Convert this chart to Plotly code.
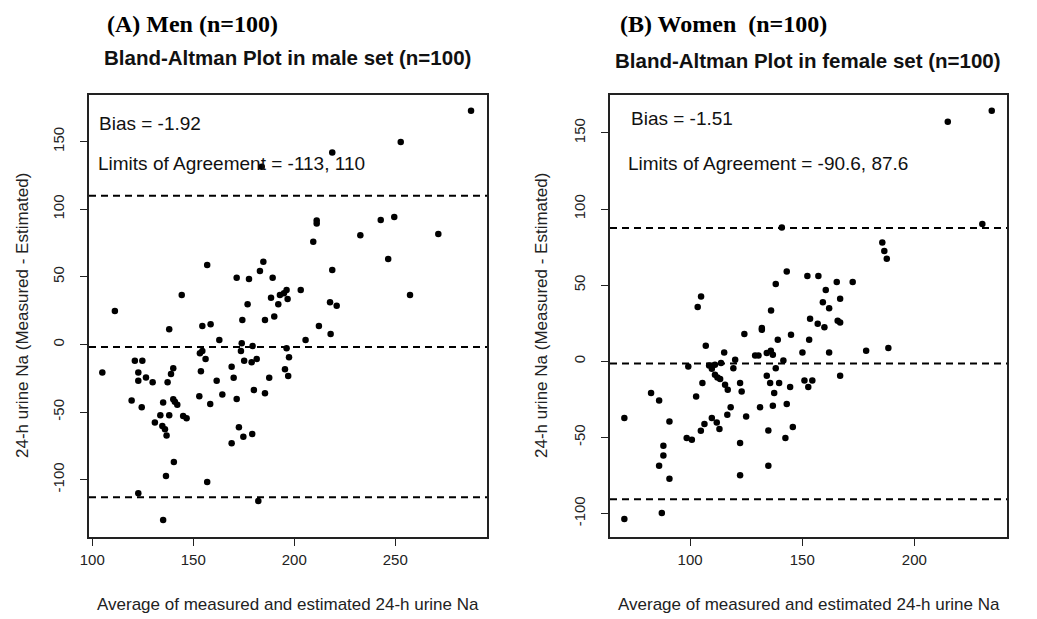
import plotly.graph_objects as go

# ---------------- data ----------------
men_avg = [183.9, 156.9, 144.3, 111.2, 184.7, 183.0, 171.5, 177.6, 189.3, 196.2,
           192.9, 194.9, 196.7, 188.5, 176.9, 192.1, 174.3, 185.5, 190.1, 287.5,
           252.7, 218.8, 211.1, 211.1, 242.8, 249.5, 209.4, 232.7, 271.3, 246.5,
           218.8, 203.2, 257.3, 217.7, 221.0, 138.1, 154.5, 158.6, 162.9, 174.0,
           179.4, 173.6, 196.2, 197.4, 195.4, 197.0, 153.3, 154.5, 156.1, 153.8,
           153.0, 158.4, 161.6, 164.4, 169.0, 170.0, 171.5, 175.2, 178.9, 181.4,
           180.0, 185.5, 187.6, 172.6, 174.8, 179.2, 169.0, 156.9, 182.2, 105.0,
           121.1, 124.8, 122.8, 122.8, 126.6, 129.9, 119.5, 124.5, 122.8, 135.1,
           137.3, 139.0, 140.1, 135.1, 140.1, 140.9, 142.1, 133.7, 138.1, 131.0,
           134.7, 136.0, 136.8, 145.0, 146.7, 140.4, 136.5, 212.2, 218.0, 205.6]
men_diff = [131.5, 58.8, 36.6, 24.8, 61.2, 54.4, 49.4, 48.4, 49.4, 40.3,
            36.6, 37.9, 33.7, 34.6, 29.7, 29.7, 18.1, 18.1, 20.6, 172.9,
            149.8, 141.9, 91.7, 89.5, 92.1, 94.3, 76.0, 80.8, 81.7, 63.2,
            55.1, 40.3, 36.6, 31.2, 28.7, 11.2, 13.7, 14.9, 3.3, 0.9,
            -1.1, -4.8, -2.8, -9.5, -18.4, -23.3, -6.5, -4.8, -10.7, -19.8,
            -38.3, -44.0, -26.8, -37.1, -16.4, -24.6, -40.3, -12.0, -13.2, -10.7,
            -33.7, -36.1, -24.6, -61.2, -68.2, -66.2, -73.1, -101.7, -115.8, -20.8,
            -12.0, -12.0, -20.8, -26.8, -24.5, -28.0, -41.5, -46.4, -110.1, -129.8,
            -28.0, -21.8, -17.6, -43.0, -40.5, -42.3, -44.5, -52.4, -52.4, -57.8,
            -60.3, -62.7, -67.4, -52.9, -54.6, -86.9, -97.3, 13.7, 7.8, 3.3]

women_avg = [140.9, 143.1, 138.2, 152.3, 104.9, 103.4, 136.1, 153.5, 214.9, 234.5,
             230.3, 185.7, 186.6, 187.7, 157.2, 160.5, 165.4, 172.5, 159.2, 162.0,
             166.9, 165.8, 166.9, 156.9, 159.9, 132.0, 132.0, 124.2, 145.0, 139.1,
             153.1, 107.0, 115.2, 129.0, 130.5, 134.2, 136.0, 136.9, 150.1, 141.6,
             120.1, 99.2, 108.5, 109.7, 111.1, 113.8, 119.3, 138.2, 111.1, 112.2,
             113.4, 105.5, 115.6, 116.8, 122.3, 123.0, 134.2, 135.7, 139.7, 137.5,
             144.6, 151.0, 154.5, 152.7, 82.6, 86.2, 102.7, 90.8, 70.7, 118.1,
             116.6, 125.0, 131.2, 136.9, 143.1, 109.7, 111.9, 113.1, 106.4, 104.8,
             98.5, 100.8, 134.9, 145.8, 142.5, 122.3, 88.1, 88.1, 86.2, 90.8,
             122.3, 134.9, 87.4, 70.7, 162.0, 178.5, 188.4, 166.9]
women_diff = [87.8, 58.9, 50.7, 56.1, 42.5, 35.6, 33.3, 27.9, 157.4, 164.6,
              90.2, 78.0, 72.5, 67.3, 56.1, 46.9, 52.0, 52.0, 38.8, 34.9,
              41.0, 26.6, 25.5, 24.6, 22.4, 21.8, 20.7, 18.0, 17.4, 14.1,
              14.1, 10.2, 5.8, 3.8, 3.8, 5.4, 6.9, 4.3, 5.8, 0.5,
              1.0, -3.4, -2.8, -4.9, -2.3, -1.2, -4.5, -4.5, -8.9, -10.6,
              -11.7, -14.3, -15.4, -18.7, -14.3, -19.8, -9.5, -14.3, -14.3, -20.9,
              -16.9, -12.6, -12.6, -16.9, -20.9, -25.7, -23.1, -39.5, -37.3, -30.1,
              -35.1, -36.2, -30.1, -29.2, -28.1, -37.3, -40.2, -44.5, -41.2, -45.6,
              -50.4, -51.5, -45.4, -43.2, -50.4, -53.7, -55.4, -61.8, -68.6, -77.1,
              -74.9, -68.6, -99.6, -103.5, 5.8, 6.9, 8.7, -9.5]

men_bias = -1.92
men_loa = [-113, 110]
women_bias = -1.51
women_loa = [-90.6, 87.6]

men_xticks = [100, 150, 200, 250]
women_xticks = [100, 150, 200]
yticks = [-100, -50, 0, 50, 100, 150]

panel_titles = ["(A) Men (n=100)", "(B) Women&nbsp; (n=100)"]
plot_titles = ["Bland-Altman Plot in male set (n=100)",
               "Bland-Altman Plot in female set (n=100)"]
xlabel = "Average of measured and estimated 24-h urine Na"
ylabel = "24-h urine Na (Measured - Estimated)"

# ---------------- layout helpers ----------------
# the page body has an 8px margin, so the figure is drawn 8px in from the corner
OFF = 8
W, H = 1037 - OFF, 619 - OFF
SANS = "Liberation Sans, Arial, sans-serif"
SERIF = "Liberation Serif, Times New Roman, serif"


def px(x):
    return (x - OFF) / W


def py(y):
    return 1 - (y - OFF) / H


fig = go.Figure()

marker = dict(color="black", size=6.5, symbol="circle")
fig.add_trace(go.Scatter(x=men_avg, y=men_diff, mode="markers", marker=marker,
                         xaxis="x", yaxis="y", showlegend=False))
fig.add_trace(go.Scatter(x=women_avg, y=women_diff, mode="markers", marker=marker,
                         xaxis="x2", yaxis="y2", showlegend=False))

dash_line = dict(color="black", width=2, dash="7px,5px")
for val in [men_bias] + men_loa:
    fig.add_shape(type="line", xref="x domain", yref="y", x0=0, x1=1, y0=val, y1=val,
                  line=dash_line)
for val in [women_bias] + women_loa:
    fig.add_shape(type="line", xref="x2 domain", yref="y2", x0=0, x1=1, y0=val, y1=val,
                  line=dash_line)

axis_common = dict(showline=True, mirror=True, linecolor="#222", linewidth=1.5,
                   ticks="outside", ticklen=7, tickwidth=1.3, tickcolor="#222",
                   showgrid=False, zeroline=False, automargin=False,
                   tickfont=dict(family=SANS, size=15, color="#222"))

left_dom = [px(89), px(487)]
right_dom = [px(610), px(1007)]
ydom = [py(537), py(95)]

ytext = [str(v) for v in yticks]

fig.update_layout(
    width=W, height=H,
    margin=dict(l=0, r=0, t=0, b=0),
    paper_bgcolor="white", plot_bgcolor="white",
    showlegend=False,
    xaxis=dict(domain=left_dom, range=[98.4, 295.4], tickvals=men_xticks,
               ticktext=[str(v) for v in men_xticks],
               anchor="y", ticklabelstandoff=1, **axis_common),
    yaxis=dict(domain=ydom, range=[-142.4, 184.5], tickvals=yticks, ticktext=ytext,
               tickangle=-90, anchor="x", ticklabelstandoff=10, **axis_common),
    xaxis2=dict(domain=right_dom, range=[64.3, 241.3], tickvals=women_xticks,
                ticktext=[str(v) for v in women_xticks],
                anchor="y2", ticklabelstandoff=1, **axis_common),
    yaxis2=dict(domain=ydom, range=[-115.4, 174.9], tickvals=yticks, ticktext=ytext,
                tickangle=-90, anchor="x2", ticklabelstandoff=10, **axis_common),
)

ann = []
# panel headings
head_font = dict(family=SERIF, size=24, color="black")
ann.append(dict(text="<b>" + panel_titles[0] + "</b>", x=px(105), y=py(24),
                xanchor="left", yanchor="middle", font=head_font))
ann.append(dict(text="<b>" + panel_titles[1] + "</b>", x=px(618), y=py(24),
                xanchor="left", yanchor="middle", font=head_font))
# plot titles
ann.append(dict(text="<b>" + plot_titles[0] + "</b>", x=px(287), y=py(58),
                xanchor="center", yanchor="middle",
                font=dict(family=SANS, size=20.5, color="#111")))
ann.append(dict(text="<b>" + plot_titles[1] + "</b>", x=px(808), y=py(60),
                xanchor="center", yanchor="middle",
                font=dict(family=SANS, size=20.5, color="#111")))
# bias / limits text
txt_font = dict(family=SANS, size=19, color="#111")
ann.append(dict(text="Bias = %s" % men_bias, x=px(97), y=py(123),
                xanchor="left", yanchor="middle", font=txt_font))
ann.append(dict(text="Limits of Agreement = %s, %s" % (men_loa[0], men_loa[1]),
                x=px(96), y=py(163), xanchor="left", yanchor="middle", font=txt_font))
ann.append(dict(text="Bias = %s" % women_bias, x=px(629), y=py(118),
                xanchor="left", yanchor="middle", font=txt_font))
ann.append(dict(text="Limits of Agreement = %s, %s" % (women_loa[0], women_loa[1]),
                x=px(626), y=py(163), xanchor="left", yanchor="middle", font=txt_font))
# axis titles
lab_font = dict(family=SANS, size=17, color="#222")
ann.append(dict(text=xlabel, x=px(288), y=py(604), xanchor="center", yanchor="middle",
                font=lab_font))
ann.append(dict(text=xlabel, x=px(808.5), y=py(604), xanchor="center", yanchor="middle",
                font=lab_font))
ann.append(dict(text=ylabel, x=px(22), y=py(316), xanchor="center", yanchor="middle",
                textangle=-90, font=lab_font))
ann.append(dict(text=ylabel, x=px(541), y=py(316), xanchor="center", yanchor="middle",
                textangle=-90, font=lab_font))

for a in ann:
    a.update(xref="paper", yref="paper", showarrow=False)
fig.update_layout(annotations=ann)

fig.write_html("out.html")
